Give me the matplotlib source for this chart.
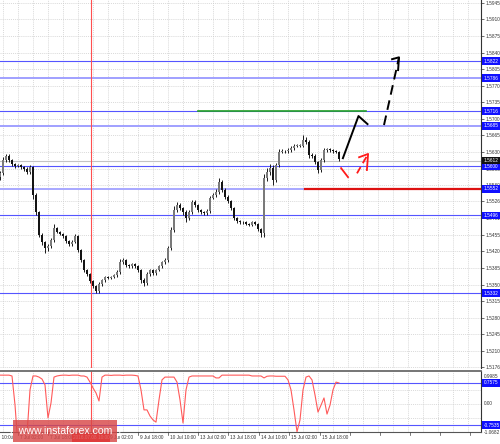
import matplotlib
matplotlib.use('Agg')
import matplotlib.pyplot as plt
from matplotlib.patches import Rectangle

plt.rcParams['font.family'] = ['Liberation Sans', 'DejaVu Sans']

# H1 closes (one bar = 3 px)
closes = [1.5585, 1.5613, 1.5622, 1.5613, 1.5604, 1.5600, 1.5602, 1.5598, 1.5594, 1.5587,
          1.5598, 1.5539, 1.5503, 1.5455, 1.5440, 1.5427, 1.5431, 1.5444, 1.5469, 1.5461,
          1.5457, 1.5452, 1.5442, 1.5435, 1.5440, 1.5452, 1.5423, 1.5402, 1.5381, 1.5372,
          1.5357, 1.5347, 1.5336, 1.5351, 1.5359, 1.5366, 1.5364, 1.5366, 1.5370, 1.5376,
          1.5397, 1.5402, 1.5391, 1.5389, 1.5393, 1.5389, 1.5381, 1.5359, 1.5353, 1.5372,
          1.5381, 1.5374, 1.5381, 1.5389, 1.5397, 1.5402, 1.5427, 1.5465, 1.5507, 1.5518,
          1.5511, 1.5503, 1.5490, 1.5503, 1.5524, 1.5518, 1.5507, 1.5503, 1.5501, 1.5505,
          1.5533, 1.5539, 1.5545, 1.5566, 1.5550, 1.5535, 1.5526, 1.5511, 1.5490, 1.5484,
          1.5482, 1.5482, 1.5478, 1.5476, 1.5482, 1.5478, 1.5467, 1.5459, 1.5575, 1.5587,
          1.5596, 1.5571, 1.5602, 1.5630, 1.5632, 1.5632, 1.5634, 1.5638, 1.5643, 1.5643,
          1.5643, 1.5655, 1.5651, 1.5624, 1.5622, 1.5609, 1.5592, 1.5613, 1.5634, 1.5636,
          1.5634, 1.5632, 1.5630, 1.5615]
first_open = 1.5578
# wick lengths in pips
wick_hi = [4, 6, 3, 3, 2, 3, 2, 2, 3, 5,
           4, 3, 4, 3, 3, 2, 4, 5, 10, 3,
           3, 3, 2, 3, 4, 4, 2, 3, 3, 2,
           3, 3, 3, 4, 3, 3, 2, 3, 3, 4,
           8, 5, 3, 3, 3, 2, 3, 2, 4, 4,
           3, 3, 3, 3, 3, 4, 4, 6, 8, 7,
           4, 3, 4, 5, 5, 4, 3, 3, 3, 4,
           5, 4, 6, 10, 4, 3, 4, 3, 3, 3,
           3, 2, 3, 3, 3, 3, 3, 2, 9, 10,
           8, 6, 5, 6, 4, 3, 4, 4, 3, 3,
           4, 10, 6, 4, 3, 4, 3, 5, 4, 3,
           3, 3, 3, 3]
wick_lo = [8, 3, 3, 3, 3, 3, 2, 3, 3, 3,
           3, 8, 6, 5, 6, 10, 5, 3, 3, 3,
           3, 3, 4, 3, 3, 3, 5, 5, 4, 4,
           4, 4, 4, 3, 4, 3, 3, 3, 3, 3,
           3, 4, 3, 3, 3, 3, 4, 5, 6, 3,
           3, 4, 3, 3, 3, 3, 4, 4, 4, 4,
           4, 5, 8, 4, 3, 4, 4, 3, 4, 3,
           3, 3, 3, 4, 4, 4, 3, 4, 4, 3,
           3, 3, 3, 3, 3, 3, 4, 9, 8, 6,
           5, 10, 4, 4, 3, 3, 3, 3, 3, 3,
           3, 3, 4, 6, 4, 5, 7, 4, 3, 3,
           3, 3, 3, 4]

osc = [1.04, 1.04, 1.04, 1.04, 1.01, -0.03, -1.5, -1.5, -1.5, -1.1,
       0.51, 1.01, 1.01, 0.97, 0.90, 0.69, -0.50, 0.04, 0.97, 1.01,
       1.03, 1.04, 1.04, 1.03, 1.04, 1.04, 1.04, 1.01, 1.01, 0.97,
       0.79, 0.58, 0.40, 0.11, 0.97, 1.04, 1.04, 1.03, 1.04, 1.04,
       1.04, 1.03, 1.04, 1.04, 1.04, 1.03, 1.01, 0.51, -0.21, -0.21,
       -0.43, -0.57, -0.65, 0.15, 0.87, 0.97, 0.97, 0.97, 0.97, 0.79,
       0.15, -0.68, 0.51, 0.97, 1.01, 1.01, 1.01, 1.01, 1.01, 1.01,
       1.01, 1.01, 0.94, 0.94, 1.04, 1.04, 1.04, 1.04, 1.04, 1.04,
       1.04, 1.04, 1.04, 1.04, 1.01, 1.01, 1.01, 1.01, 0.94, 1.0,
       1.01, 1.01, 1.0, 1.0, 1.0, 1.0, 0.87, 0.51, -0.21, -1.0,
       -0.57, 0.51, 0.97, 1.01, 0.87, 0.33, -0.29, -0.04, 0.22, -0.36,
       -0.04, 0.51, 0.79, 0.76]

price_ticks = [1.5945, 1.5910, 1.5875, 1.5840, 1.5805, 1.5770, 1.5735, 1.5700, 1.5665,
               1.5630, 1.5595, 1.5560, 1.5526, 1.5491, 1.5455, 1.5420, 1.5385, 1.5350,
               1.5315, 1.5280, 1.5245, 1.5210, 1.5176]
dark_levels = [1.5822, 1.5716, 1.5600, 1.5496, 1.5332]
light_levels = [1.5786, 1.5685]
support_level = 1.5552
green_level = 1.5716
last_price = 1.5612
osc_levels = [0.7575, -0.7535]
osc_labels = [0.9985, 0.00, -1.0682]

time_labels = ['6 Jul 10:00', '7 Jul 02:00', '7 Jul 18:00', '9 Jul 02:00',
               '9 Jul 18:00', '10 Jul 10:00', '13 Jul 02:00', '13 Jul 18:00',
               '14 Jul 10:00', '15 Jul 02:00', '15 Jul 18:00']
time_ticks = [-4, 6, 16, 36, 46, 56, 66, 76, 86.3, 96.3, 106.7]
empty_ticks = [26, 116.8, 126.8, 136.8, 146.8, 156.8]
cursor_bar = 30.3
cursor_label = '2016.07.08 10:00'

# hand drawn forecast (bar, price)
black_solid = ([114.3, 119.5, 122.5], [1.5617, 1.5706, 1.5689])
black_dash = ([128.0, 133.0], [1.5687, 1.5830])
black_head = ([130.7, 133.0, 132.7], [1.5826, 1.5830, 1.5803])
red_dash1 = ([113.7, 116.0], [1.5596, 1.5577])
red_dash2 = ([119.0, 122.7], [1.5585, 1.5626])
red_head = ([119.7, 122.7, 122.3], [1.5619, 1.5626, 1.5592])

W, H = 500, 444
fig = plt.figure(figsize=(W / 100, H / 100), dpi=100)
fig.patch.set_facecolor('white')

def fx(px):
    return px / W

def fy(py):
    return 1 - py / H

ax = fig.add_axes([0, fy(368), fx(481), fy(0) - fy(368)])
ax2 = fig.add_axes([0, fy(432), fx(481), fy(371) - fy(432)])

xmax = 481 / 3
ax.set_xlim(0, xmax)
ax.set_ylim(1.5174, 1.5951)
ax2.set_xlim(0, xmax)
ax2.set_ylim(-1.005, 1.189)

grid_x = [i for i in range(1, 161, 5)]
for a in (ax, ax2):
    for gx in grid_x:
        a.axvline(gx, color='#cccccc', lw=0.5, ls=(0, (1.5, 1.5)), zorder=0)
for p in price_ticks:
    ax.axhline(p, color='#cccccc', lw=0.5, ls=(0, (1.5, 1.5)), zorder=0)
for v in [0.0, 0.5, -0.5]:
    ax2.axhline(v, color='#cccccc', lw=0.5, ls=(0, (1.5, 1.5)), zorder=0)

# levels
for lv in dark_levels:
    ax.axhline(lv, color='#5555ff', lw=0.8, zorder=1)
for lv in light_levels:
    ax.axhline(lv, color='#a0a0ff', lw=1.4, zorder=1)
ax.plot([0, 101.7], [support_level] * 2, color='#a8a8ff', lw=1.4, zorder=1)
ax.plot([101.7, xmax], [support_level] * 2, color='#dd1111', lw=1.6, zorder=2)
ax.plot([66, 122], [green_level] * 2, color='#22a022', lw=1.2, zorder=2)
ax.axhline(last_price, color='#c4c4c4', lw=0.8, zorder=1)
for lv in osc_levels:
    ax2.axhline(lv, color='#5555ff', lw=0.8, zorder=1)

# candles
opens = [first_open] + closes[:-1]
for i, (o, c) in enumerate(zip(opens, closes)):
    hi = max(o, c) + wick_hi[i] * 0.0001
    lo = min(o, c) - wick_lo[i] * 0.0001
    ax.vlines(i, lo, hi, color='#1a1a1a', lw=0.7, zorder=3)
    body = max(abs(c - o), 0.00008)
    ax.bar(i, body, bottom=min(o, c), width=0.72,
           color='#7a7a7a' if c >= o else '#141414', lw=0, zorder=4)

ax2.plot(range(len(osc)), osc, color='#ff5a5a', lw=0.8, zorder=3)

# cursor
ax.axvline(cursor_bar, color='#ff5050', lw=0.8, zorder=2)
ax2.axvline(cursor_bar, color='#ff5050', lw=0.8, zorder=2)

# forecast drawings
ax.plot(*black_solid, color='black', lw=1.4, zorder=6)
ax.plot(*black_dash, color='black', lw=1.4, ls=(0, (5, 3)), zorder=6)
ax.plot(*black_head, color='black', lw=1.4, zorder=6)
ax.plot(*red_dash1, color='#ff1a1a', lw=1.3, zorder=6)
ax.plot(*red_dash2, color='#ff1a1a', lw=1.3, ls=(0, (4, 2.5)), zorder=6)
ax.plot(*red_head, color='#ff1a1a', lw=1.3, zorder=6)

# axes frames
for a in (ax, ax2):
    a.set_xticks([])
    for s in ['left', 'top', 'bottom']:
        a.spines[s].set_visible(False)
    a.spines['right'].set_color('#333333')
    a.spines['right'].set_linewidth(0.8)
ax2.spines['top'].set_visible(True)
ax2.spines['top'].set_color('#6a6a6a')
ax2.spines['top'].set_linewidth(1.3)
ax2.spines['bottom'].set_visible(True)
ax2.spines['bottom'].set_color('#555555')
ax2.spines['bottom'].set_linewidth(0.8)

FS = 3.4
ax.yaxis.tick_right()
ax.set_yticks(price_ticks)
ax.set_yticklabels([f'{p:.4f}' for p in price_ticks])
ax.tick_params(axis='y', length=2, width=0.5, labelsize=FS, pad=1.5, colors='#333333')
ax2.set_yticks([])

ty = ax.get_yaxis_transform()
for lv in dark_levels + light_levels + [support_level]:
    ax.text(1.006, lv, f'{lv:.4f}', transform=ty, fontsize=FS, color='white',
            va='center', ha='left', clip_on=False, zorder=10,
            bbox=dict(boxstyle='square,pad=0.3', fc='#1010ff', ec='none'))
ax.text(1.006, last_price, f'{last_price:.4f}', transform=ty, fontsize=FS, color='white',
        va='center', ha='left', clip_on=False, zorder=10,
        bbox=dict(boxstyle='square,pad=0.3', fc='#111111', ec='none'))

ty2 = ax2.get_yaxis_transform()
for lv in osc_levels:
    ax2.text(1.006, lv, f'{lv:.4f}', transform=ty2, fontsize=FS, color='white',
             va='center', ha='left', clip_on=False, zorder=10,
             bbox=dict(boxstyle='square,pad=0.3', fc='#1010ff', ec='none'))
for v, py in zip(osc_labels, [376, 403, 432]):
    txt = f'{v:.2f}' if v == 0 else f'{v:.4f}'
    fig.text(fx(484), fy(py), txt, fontsize=FS, color='#333333', va='center', ha='left')

# time axis
for t, lab in zip(time_ticks, time_labels):
    px = t * 3
    fig.add_artist(plt.Line2D([fx(px), fx(px)], [fy(432), fy(435)], color='#444444', lw=0.5))
    fig.text(fx(px + 2), fy(437.5), lab, fontsize=FS, color='#333333', va='center', ha='left')
for t in empty_ticks:
    px = t * 3
    fig.add_artist(plt.Line2D([fx(px), fx(px)], [fy(432), fy(435)], color='#444444', lw=0.5))

cx = cursor_bar * 3
fig.patches.append(Rectangle((fx(cx - 19), fy(442)), fx(38), fy(433) - fy(442),
                             transform=fig.transFigure, fc='#ff1010', ec='none', zorder=5))
fig.text(fx(cx), fy(437.5), cursor_label, fontsize=FS, color='white', va='center',
         ha='center', zorder=6)

# watermark
fig.patches.append(Rectangle((fx(13), fy(442)), fx(104), fy(420) - fy(442),
                             transform=fig.transFigure, fc='#d84848', ec='none',
                             alpha=0.82, zorder=7))
fig.text(fx(65), fy(431), '[  www.instaforex.com  ]', fontsize=7.6, color='white',
         va='center', ha='center', zorder=8)

fig.savefig('out.png', dpi=100)
